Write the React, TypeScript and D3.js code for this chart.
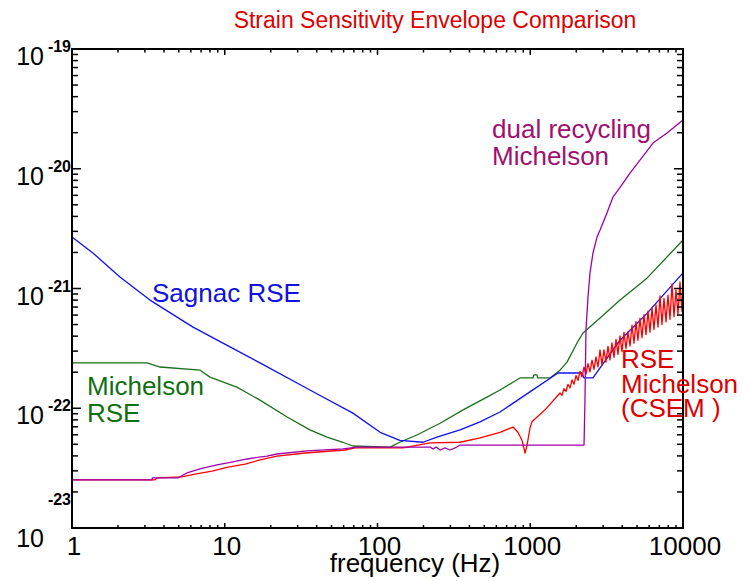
import React from 'react';
import * as d3 from 'd3';

const W = 746;
const H = 581;

const titleText = 'Strain Sensitivity Envelope Comparison';
const xAxisTitle = 'frequency (Hz)';
const xTickValues = [1, 10, 100, 1000, 10000];
const xTickLabels = ['1', '10', '100', '1000', '10000'];
const yTickValues = [1e-19, 1e-20, 1e-21, 1e-22, 1e-23];
const yTickExponents = ['-19', '-20', '-21', '-22', '-23'];

// Sagnac RSE (blue)
const sagnacFreq = [1, 1.37, 2.06, 3.24, 6.2, 10.3, 17.0, 36.1, 69, 104, 140, 199, 245, 347, 469, 634, 1012, 1520, 2183, 2250, 2575, 2864, 3873, 5810, 10000];
const sagnacStrain = [2.69e-21, 1.98e-21, 1.25e-21, 8.0e-22, 4.76e-22, 3.37e-22, 2.39e-22, 1.42e-22, 9.1e-23, 6.3e-23, 5.4e-23, 5.2e-23, 5.75e-23, 6.6e-23, 7.7e-23, 9.3e-23, 1.39e-22, 1.97e-22, 1.97e-22, 1.79e-22, 1.79e-22, 2.17e-22, 3.7e-22, 6.2e-22, 1.35e-21];

// Michelson RSE (green)
const michRseFreq = [1, 3.1, 3.77, 6.9, 8.0, 12.0, 17.0, 25.6, 36.1, 46.7, 59.4, 69, 121, 140, 181, 257, 363, 521, 634, 857, 1042, 1058, 1105, 1122, 1346, 1566, 1741, 2024, 2215, 2864, 3873, 5810, 10000];
const michRseStrain = [2.39e-22, 2.39e-22, 2.21e-22, 2.08e-22, 1.82e-22, 1.5e-22, 1.17e-22, 8.45e-23, 6.6e-23, 5.75e-23, 5.2e-23, 4.84e-23, 4.74e-23, 5.2e-23, 5.98e-23, 7.5e-23, 9.7e-23, 1.24e-22, 1.42e-22, 1.79e-22, 1.79e-22, 1.9e-22, 1.9e-22, 1.79e-22, 1.79e-22, 2.08e-22, 2.43e-22, 3.51e-22, 4.25e-22, 5.68e-22, 8.0e-22, 1.22e-21, 2.54e-21];

// Dual recycling Michelson (purple)
const dualFreq = [1, 3.34, 3.36, 4.94, 5.66, 6.88, 8.9, 11.3, 14.0, 18.9, 22.0, 34.5, 59.4, 73.4, 221, 231, 242, 257, 277, 298, 322, 347, 2249, 2282, 2316, 2388, 2461, 2575, 2735, 2864, 3178, 3480, 3873, 4498, 5229, 6362, 7856, 10000];
const dualStrain = [2.52e-23, 2.52e-23, 2.62e-23, 2.62e-23, 2.88e-23, 3.11e-23, 3.36e-23, 3.56e-23, 3.77e-23, 3.99e-23, 4.15e-23, 4.4e-23, 4.57e-23, 4.74e-23, 4.74e-23, 4.57e-23, 4.74e-23, 4.48e-23, 4.66e-23, 4.48e-23, 4.66e-23, 4.93e-23, 4.93e-23, 1.17e-22, 4.5e-22, 8.5e-22, 1.35e-21, 1.98e-21, 2.69e-21, 3.08e-21, 4.27e-21, 5.8e-21, 7.0e-21, 9.2e-21, 1.18e-20, 1.64e-20, 1.99e-20, 2.55e-20];

// RSE Michelson (CSEM) (red) - smooth part
const csemFreqLow = [1, 3.49, 3.6, 5.25, 6.38, 8.26, 10.5, 13.6, 17.0, 22.0, 33.5, 61.3, 71.2, 147, 221, 347, 469, 634, 771, 831, 883, 925, 953, 996, 1026, 1250];
const csemStrainLow = [2.52e-23, 2.52e-23, 2.62e-23, 2.67e-23, 2.82e-23, 2.99e-23, 3.23e-23, 3.42e-23, 3.7e-23, 3.99e-23, 4.23e-23, 4.48e-23, 4.66e-23, 4.66e-23, 5.13e-23, 5.2e-23, 5.65e-23, 6.3e-23, 6.97e-23, 6.3e-23, 5.4e-23, 4.23e-23, 4.93e-23, 6.84e-23, 7.7e-23, 9.7e-23];
// RSE Michelson (CSEM) (red) - noisy high-frequency part
const csemFreqHigh = [1566, 1614, 1663, 1714, 1767, 1821, 1877, 1934, 1993, 2054, 2117, 2182, 2248, 2317, 2388, 2461, 2537, 2614, 2694, 2776, 2861, 2949, 3039, 3132, 3228, 3327, 3429, 3534, 3642, 3753, 3868, 3987, 4108, 4234, 4364, 4497, 4635, 4777, 4923, 5074, 5229, 5389, 5554, 5724, 5899, 6079, 6266, 6457, 6655, 6859, 7069, 7285, 7508, 7738, 7975, 8219, 8471, 8730, 8997, 9272, 9556, 9849];
const csemStrainHigh = [1.34e-22, 1.285e-22, 1.459e-22, 1.38e-22, 1.585e-22, 1.479e-22, 1.722e-22, 1.588e-22, 1.874e-22, 1.702e-22, 2.035e-22, 1.827e-22, 2.202e-22, 1.924e-22, 2.36e-22, 2.016e-22, 2.519e-22, 2.111e-22, 2.689e-22, 2.211e-22, 3.064e-22, 2.315e-22, 3.076e-22, 2.424e-22, 3.285e-22, 2.538e-22, 3.52e-22, 2.664e-22, 3.765e-22, 2.817e-22, 4.027e-22, 2.967e-22, 4.307e-22, 3.137e-22, 4.332e-22, 3.311e-22, 4.937e-22, 3.493e-22, 5.283e-22, 3.693e-22, 5.649e-22, 3.89e-22, 6.041e-22, 4.114e-22, 6.463e-22, 4.324e-22, 6.874e-22, 4.546e-22, 7.31e-22, 4.77e-22, 8.657e-22, 5.005e-22, 8.283e-22, 5.262e-22, 8.808e-22, 5.532e-22, 1.09e-21, 5.803e-22, 9.716e-22, 6.1e-22, 1.133e-21, 6.414e-22];

const FONT = '"Liberation Sans", Arial, Helvetica, sans-serif';

const zip = (a: number[], b: number[]) => a.map((v, i) => [v, b[i]] as [number, number]);

export default function App() {
  const x = d3.scaleLog().domain([1, 10000]).range([72, 683]);
  const y = d3.scaleLog().domain([1e-23, 1e-19]).range([528, 49]);
  const line = d3.line<[number, number]>().x(d => x(d[0])).y(d => y(d[1]));

  const xt = x.ticks();
  const yt = y.ticks();
  const isMajor = (v: number) => Math.abs(Math.log10(v) - Math.round(Math.log10(v))) < 1e-6;

  const [x0, x1] = x.range();
  const [y0, y1] = y.range();

  const series = [
    { d: zip(michRseFreq, michRseStrain), color: '#1b6f1b' },
    { d: zip(sagnacFreq, sagnacStrain), color: '#1010ee' },
    { d: zip([...csemFreqLow, ...csemFreqHigh], [...csemStrainLow, ...csemStrainHigh]), color: '#ff0000' },
    { d: zip(dualFreq, dualStrain), color: '#a000a8' },
  ];

  return (
    <svg width={W} height={H} style={{ position: 'absolute', left: 0, top: 0, background: '#fff' }} fontFamily={FONT}>
      <rect x={0} y={0} width={W} height={H} fill="#fff" />
      <text x={435} y={28} textAnchor="middle" fontSize={23} fill="#dd0000">{titleText}</text>

      {series.map((s, i) => (
        <path key={i} d={line(s.d) || ''} fill="none" stroke={s.color} strokeWidth={1.3} strokeLinejoin="round" />
      ))}

      {/* frame */}
      <g stroke="#000" strokeWidth={2} fill="none">
        <line x1={x0} x2={x1} y1={y0} y2={y0} />
        <line x1={x0} x2={x1} y1={y1} y2={y1} />
        <line x1={x0} x2={x0} y1={y0 + 1} y2={y1 - 1} />
        <line x1={x1} x2={x1} y1={y0 + 1} y2={y1 - 1} />
      </g>
      <g stroke="#000" strokeWidth={1.5}>
        {xt.map((v, i) => {
          const m = isMajor(v);
          const px = x(v);
          return (
            <g key={'xt' + i}>
              <line x1={px} x2={px} y1={y0} y2={y0 - (m ? 5 : 3)} />
              <line x1={px} x2={px} y1={y1} y2={y1 + (m ? 6 : 3.5)} />
            </g>
          );
        })}
        {yt.map((v, i) => {
          const m = isMajor(v);
          const py = y(v);
          return (
            <g key={'yt' + i}>
              <line x1={x0} x2={x0 + (m ? 9 : 6)} y1={py} y2={py} />
              <line x1={x1} x2={x1 - (m ? 9 : 6)} y1={py} y2={py} />
            </g>
          );
        })}
      </g>

      {xTickValues.map((v, i) => (
        <text key={'xl' + i} x={x(v) + 2} y={555} textAnchor="middle" fontSize={26} fill="#000">{xTickLabels[i]}</text>
      ))}
      <text x={415} y={572} textAnchor="middle" fontSize={26} fill="#000">{xAxisTitle}</text>

      {yTickValues.map((v, i) => {
        const py = y(v);
        const last = i === yTickValues.length - 1;
        return (
          <g key={'yl' + i}>
            <text x={44} y={last ? 547 : py + 16} textAnchor="end" fontSize={25} fill="#000">10</text>
            <text x={71} y={last ? 505 : py + 3} textAnchor="end" fontSize={16} fontWeight="bold" fill="#000">{yTickExponents[i]}</text>
          </g>
        );
      })}

      <text x={152} y={302} fontSize={26} fill="#1010e0">Sagnac RSE</text>
      <text fontSize={26} fill="#107010">
        <tspan x={87} y={395}>Michelson</tspan>
        <tspan x={87} y={422}>RSE</tspan>
      </text>
      <text fontSize={26} fill="#a0106e">
        <tspan x={492} y={138}>dual recycling</tspan>
        <tspan x={492} y={165}>Michelson</tspan>
      </text>
      <text fontSize={26} fill="#dd0000">
        <tspan x={621} y={368}>RSE</tspan>
        <tspan x={621} y={393}>Michelson</tspan>
        <tspan x={621} y={417}>(CSEM )</tspan>
      </text>
    </svg>
  );
}
